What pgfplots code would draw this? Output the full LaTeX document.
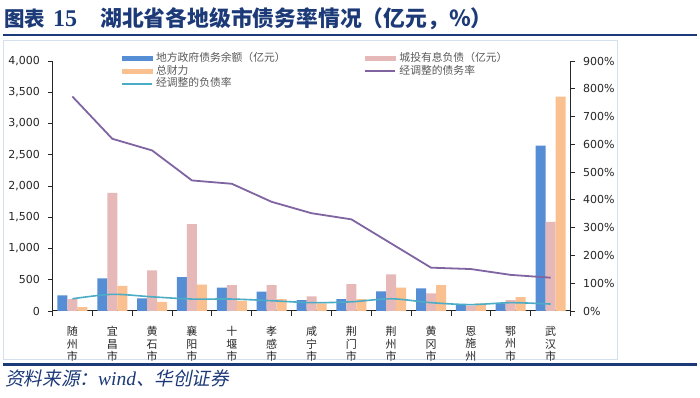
\documentclass[border=0pt]{standalone}
\usepackage{pgfplots}
\pgfplotsset{compat=1.18}
\usepackage{fontspec}
\setmainfont{DejaVu Sans}
\newfontfamily\cjk{Noto Sans CJK SC}
\newfontfamily\cjkit[FakeSlant=0.2]{Noto Sans CJK SC}
\newfontfamily\serifit{Liberation Serif}
\newfontfamily\tickfont{DejaVu Sans}
\definecolor{cblue}{HTML}{558ED5}
\definecolor{cpink}{HTML}{E6B9B8}
\definecolor{corange}{HTML}{FAC090}
\definecolor{cpurple}{HTML}{8064A2}
\definecolor{ccyan}{HTML}{4BACC6}
\definecolor{titleblue}{HTML}{1C3A78}
\definecolor{boxcol}{HTML}{D5E0EE}
\definecolor{legtext}{HTML}{595959}
\definecolor{ticktext}{HTML}{262626}
\begin{document}
\begin{tikzpicture}
\useasboundingbox (0pt,0pt) rectangle (700pt,398pt);
\fill[white] (0pt,0pt) rectangle (700pt,398pt);
% title
\node[anchor=base west, inner sep=0, text=titleblue, font=\cjk\bfseries\fontsize{20.5}{24}\selectfont] at (4pt,371pt) {图表\hspace{8pt}{\serifit\bfseries\fontsize{24}{24}\selectfont 15}\hspace{23pt}{\fontsize{21.8}{24}\selectfont 湖北省各地级市债务率情况（亿元，％）}};
\draw[line width=2pt, titleblue] (3pt,363pt) -- (697pt,363pt);
\draw[boxcol, line width=0.8pt] (3pt,358pt) rectangle (617pt,39pt);
\draw[line width=3pt, titleblue] (3pt,33pt) -- (697pt,33pt);
\node[anchor=base west, inner sep=0, text=titleblue, font=\cjkit\fontsize{18.6}{20}\selectfont] at (5pt,12pt) {资料来源：{\serifit\itshape\fontsize{19.5}{20}\selectfont wind}、华创证券};

\begin{axis}[
  at={(52.5pt,87pt)}, anchor=south west, scale only axis,
  width=518pt, height=250pt,
  xmin=-0.5, xmax=12.5, ymin=0, ymax=4000,
  axis x line*=bottom, axis y line*=left,
  axis line style={-, black!85, line width=1pt},
  tick align=outside,
  ybar=0pt, bar width=10pt,
  xtick={0,...,12},
  xticklabels={{随\\州\\市},{宜\\昌\\市},{黄\\石\\市},{襄\\阳\\市},{十\\堰\\市},{孝\\感\\市},{咸\\宁\\市},{荆\\门\\市},{荆\\州\\市},{黄\\冈\\市},{恩\\施\\州},{鄂\\州\\市},{武\\汉\\市}},
  major x tick style={draw=none},
  minor xtick={-0.5,0.5,...,12.5},
  minor x tick style={black!85, line width=0.8pt},
  minor tick length=5pt,
  xticklabel style={align=center, font=\cjk\fontsize{11}{12.5}\selectfont, text=ticktext, yshift=-8pt},
  ytick={0,500,...,4000},
  major tick length=4pt,
  y tick style={black!85, line width=0.8pt},
  yticklabel style={font=\tickfont\fontsize{11}{13}\selectfont, text=ticktext, xshift=-5pt, /pgf/number format/1000 sep={,}, /pgf/number format/assume math mode=true},
  scaled y ticks=false,
  clip=false,
]
\addplot[fill=cblue, draw=none] coordinates {(0,250) (1,520) (2,200) (3,540) (4,375) (5,310) (6,175) (7,190) (8,315) (9,360) (10,110) (11,120) (12,2645)};
\addplot[fill=cpink, draw=none] coordinates {(0,190) (1,1890) (2,650) (3,1390) (4,415) (5,415) (6,235) (7,430) (8,585) (9,280) (10,85) (11,175) (12,1425)};
\addplot[fill=corange, draw=none] coordinates {(0,60) (1,400) (2,145) (3,420) (4,160) (5,190) (6,120) (7,190) (8,375) (9,415) (10,120) (11,220) (12,3430)};
\end{axis}

\begin{axis}[
  at={(52.5pt,87pt)}, anchor=south west, scale only axis,
  width=518pt, height=250pt,
  xmin=-0.5, xmax=12.5, ymin=0, ymax=900,
  axis x line=none, axis y line*=right,
  axis line style={-, black!85, line width=1pt},
  tick align=outside,
  ytick={0,100,...,900},
  major tick length=4pt,
  y tick style={black!85, line width=0.8pt},
  yticklabel={\pgfmathprintnumber{\tick}\%},
  yticklabel style={font=\tickfont\fontsize{11}{13}\selectfont, text=ticktext, xshift=5pt, /pgf/number format/assume math mode=true},
  legend columns=2,
  legend style={at={(0.126,1.045)}, anchor=north west, draw=none, fill=none,
    font=\cjk\fontsize{10.8}{12}\selectfont, text=legtext,
    nodes={inner sep=0.5pt, text height=8.8pt, text depth=3pt},
    /tikz/every even column/.append style={column sep=78pt},
    /tikz/every odd column/.append style={column sep=3pt},
    cells={anchor=west}},
]
\addlegendimage{legend image code/.code={\fill[cblue] (0pt,-2.2pt) rectangle (30pt,2.2pt);}}
\addlegendentry{地方政府债务余额（亿元）}
\addlegendimage{legend image code/.code={\fill[cpink] (0pt,-2.2pt) rectangle (30pt,2.2pt);}}
\addlegendentry{城投有息负债（亿元）}
\addlegendimage{legend image code/.code={\fill[corange] (0pt,-2.2pt) rectangle (30pt,2.2pt);}}
\addlegendentry{总财力}
\addplot[cpurple, line width=1.8pt, mark=none, legend image code/.code={\draw[cpurple, line width=1.8pt] (0pt,0pt) -- (30pt,0pt);}] coordinates {(0,772) (1,620) (2,578) (3,470) (4,458) (5,393) (6,352) (7,330) (8,243) (9,156) (10,151) (11,130) (12,120)};
\addlegendentry{经调整的债务率}
\addplot[ccyan, line width=1.6pt, mark=none, smooth, legend image code/.code={\draw[ccyan, line width=1.6pt] (0pt,0pt) -- (30pt,0pt);}] coordinates {(0,44) (1,60) (2,51) (3,43) (4,43) (5,37) (6,30) (7,33) (8,44) (9,30) (10,23) (11,30) (12,25)};
\addlegendentry{经调整的负债率}
\end{axis}
\end{tikzpicture}
\end{document}
